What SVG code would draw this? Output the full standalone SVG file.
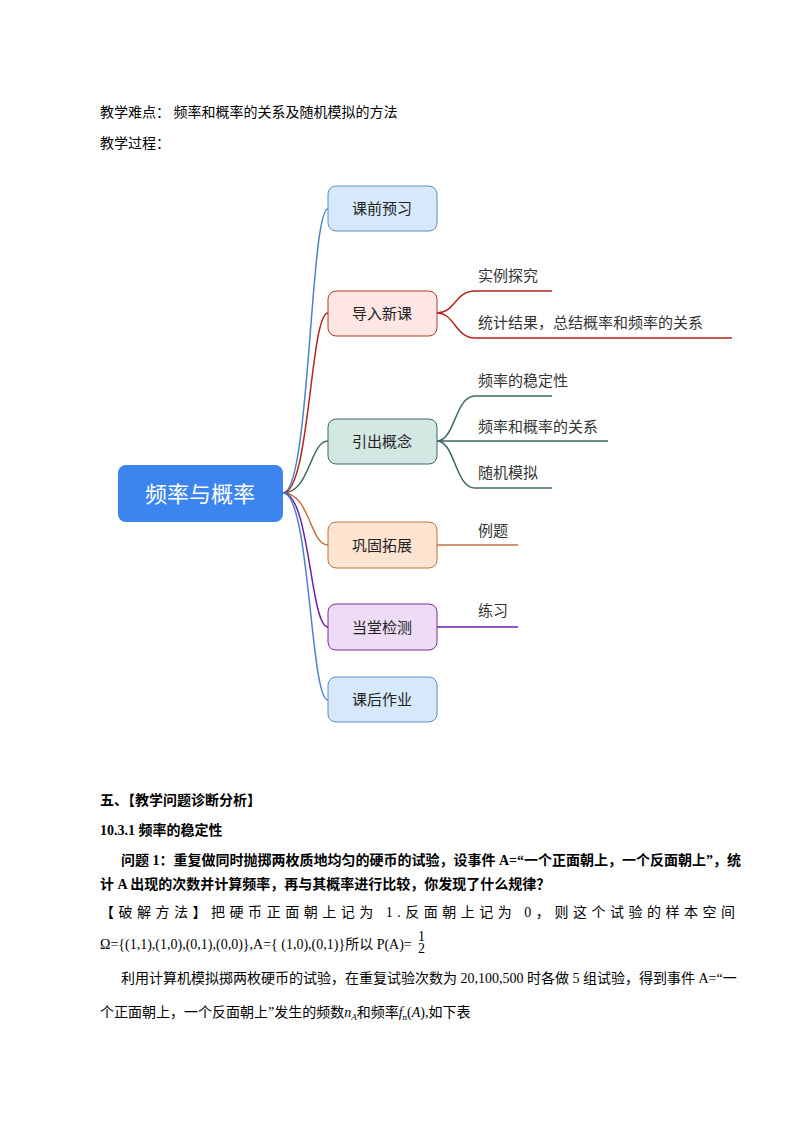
<svg xmlns="http://www.w3.org/2000/svg" width="794" height="1123" viewBox="0 0 794 1123">
<style>
.t{font-family:"Liberation Serif","Noto Sans CJK SC",serif;font-size:14px;fill:#000}
.b{font-weight:bold}
.n{font-family:"Noto Sans CJK SC",sans-serif;font-size:15px;fill:#222;text-anchor:middle}
.l{font-family:"Noto Sans CJK SC",sans-serif;font-size:15px;fill:#333}
.c{fill:none;stroke-width:1.5}
</style>
<rect width="794" height="1123" fill="#fff"/>
<text class="t" x="100" y="117">教学难点：  频率和概率的关系及随机模拟的方法</text>
<text class="t" x="100" y="148">教学过程：</text>
<g id="connectors">
<path class="c" stroke="#4a82cc" d="M283,493 C310,493 310,209 328,209"/>
<path class="c" stroke="#b3271a" d="M283,493 C310,493 310,313 328,313"/>
<path class="c" stroke="#3d6a63" d="M283,493 C310,493 310,441 328,441"/>
<path class="c" stroke="#c0703f" d="M283,493 C310,493 310,545 328,545"/>
<path class="c" stroke="#6a1fb0" d="M283,493 C310,493 310,627 328,627"/>
<path class="c" stroke="#4a82cc" d="M283,493 C310,493 310,700 328,700"/>
<path class="c" stroke="#b3271a" d="M437,313 C455,313 455,291 475,291 L552,291 M437,313 C455,313 455,338 475,338 L732,338"/>
<path class="c" stroke="#3d6a63" d="M437,441 C455,441 455,396 475,396 L552,396 M437,441 L608,441 M437,441 C455,441 455,488 475,488 L552,488"/>
<path class="c" stroke="#c0703f" d="M437,545 L518,545"/>
<path class="c" stroke="#6a1fb0" d="M437,627 L518,627"/>
</g>
<g id="root"><rect x="118" y="465" width="165" height="57" rx="8" fill="#3c84ee"/><text x="200" y="502" text-anchor="middle" font-family="Noto Sans CJK SC,sans-serif" font-size="22" fill="#fff">频率与概率</text></g>
<g id="n1"><rect x="328" y="186" width="109" height="45" rx="8" fill="#d7e8fb" stroke="#5a8fc8"/><text class="n" x="382" y="214">课前预习</text></g>
<g id="n2"><rect x="328" y="291" width="109" height="45" rx="8" fill="#fde6e3" stroke="#b23a2a"/><text class="n" x="382" y="319">导入新课</text></g>
<g id="n3"><rect x="328" y="419" width="109" height="45" rx="8" fill="#d3e7e3" stroke="#3d6a63"/><text class="n" x="382" y="447">引出概念</text></g>
<g id="n4"><rect x="328" y="522" width="109" height="46" rx="8" fill="#fde4d0" stroke="#c0703f"/><text class="n" x="382" y="551">巩固拓展</text></g>
<g id="n5"><rect x="328" y="604" width="109" height="46" rx="8" fill="#eedcf7" stroke="#7b2a9a"/><text class="n" x="382" y="633">当堂检测</text></g>
<g id="n6"><rect x="328" y="677" width="109" height="45" rx="8" fill="#d7e8fb" stroke="#5a8fc8"/><text class="n" x="382" y="705">课后作业</text></g>
<g id="leaves">
<text class="l" x="478" y="281">实例探究</text>
<text class="l" x="478" y="328">统计结果，总结概率和频率的关系</text>
<text class="l" x="478" y="386">频率的稳定性</text>
<text class="l" x="478" y="432">频率和概率的关系</text>
<text class="l" x="478" y="478">随机模拟</text>
<text class="l" x="478" y="536">例题</text>
<text class="l" x="478" y="616">练习</text>
</g>
<text class="t b" x="100" y="805" font-size="13">五、【教学问题诊断分析】</text>
<text class="t b" x="100" y="835" font-size="13">10.3.1  频率的稳定性</text>
<text class="t b" x="121" y="865" font-size="13.5">问题 1：重复做同时抛掷两枚质地均匀的硬币的试验，设事件 A=“一个正面朝上，一个反面朝上”，统</text>
<text class="t b" x="100" y="889" font-size="13.5">计 A 出现的次数并计算频率，再与其概率进行比较，你发现了什么规律？</text>
<text class="t" x="100" y="917" textLength="635" font-size="15">【破解方法】把硬币正面朝上记为 1.反面朝上记为 0，则这个试验的样本空间</text>
<text class="t" x="100" y="949" font-size="13">Ω={(1,1),(1,0),(0,1),(0,0)},A={ (1,0),(0,1)}所以 P(A)=</text>
<text class="t" x="418" y="941" font-size="7">1</text><text class="t" x="418" y="953" font-size="7">2</text>
<text class="t" x="121" y="983" font-size="14.5">利用计算机模拟掷两枚硬币的试验，在重复试验次数为 20,100,500 时各做 5 组试验，得到事件 A=“一</text>
<text class="t" x="100" y="1017" font-size="14.5">个正面朝上，一个反面朝上”发生的频数<tspan font-style="italic">n</tspan><tspan font-style="italic" font-size="9" dy="3">A</tspan><tspan dy="-3">和频率</tspan><tspan font-style="italic">f</tspan><tspan font-size="9" dy="3">n</tspan><tspan dy="-3">(</tspan><tspan font-style="italic">A</tspan>),如下表</text>
</svg>
